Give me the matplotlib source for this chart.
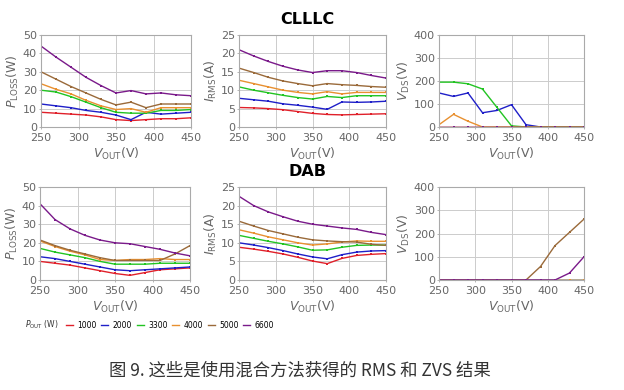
import matplotlib
matplotlib.use("Agg")
import matplotlib.pyplot as plt
from matplotlib.lines import Line2D

plt.rcParams['font.family'] = ['DejaVu Sans']

# data
vout = [250, 270, 290, 310, 330, 350, 370, 390, 410, 430, 450]
pout_labels = ['1000', '2000', '3300', '4000', '5000', '6600']
colors = ['#e0202a', '#1f1fc8', '#22c422', '#e89030', '#9a6a3a', '#7a1a8a']

clllc_ploss = [
    [8, 7.5, 7, 6.5, 5.5, 4, 3.5, 4, 4.5, 4.5, 5],
    [12.5, 11.5, 10.5, 9, 8, 6.5, 4, 8, 7, 7.5, 8],
    [20, 19, 16.5, 13.5, 10.5, 8, 7.5, 7.5, 9, 9, 9.5],
    [23.5, 20.5, 18, 14.5, 11.5, 9.5, 10, 8, 10.5, 10.5, 10.5],
    [30, 26, 22, 18.5, 15, 12, 13.5, 10.5, 12.5, 12.5, 12.5],
    [44, 38, 32.5, 27, 22.5, 18.5, 19.8, 18, 18.5, 17.5, 17],
]
clllc_irms = [
    [5.3, 5.2, 5, 4.7, 4.2, 3.7, 3.4, 3.3, 3.4, 3.5, 3.6],
    [7.8, 7.4, 7, 6.3, 5.9, 5.4, 4.8, 6.8, 6.7, 6.8, 7],
    [10.9, 10, 9.3, 8.6, 8, 7.6, 8.3, 8, 8.5, 8.5, 8.5],
    [12.7, 11.8, 10.9, 10, 9.4, 9, 9.6, 9, 9.4, 9.4, 9.4],
    [16, 14.8, 13.5, 12.5, 11.8, 11.2, 11.8, 11.5, 11.3, 11, 10.8],
    [21, 19.3, 17.8, 16.5, 15.5, 14.8, 15.3, 15.3, 14.8, 14, 13.3],
]
clllc_vds = [
    [0, 0, 0, 0, 0, 0, 0, 0, 0, 0, 0],
    [148, 133, 148, 62, 72, 97, 10, 0, 0, 0, 0],
    [195, 195, 188, 165, 85, 5, 0, 0, 0, 0, 0],
    [10, 55, 25, 0, 0, 0, 0, 0, 0, 0, 0],
    [0, 0, 0, 0, 0, 0, 0, 0, 0, 0, 0],
    [0, 0, 0, 0, 0, 0, 0, 0, 0, 0, 0],
]
dab_ploss = [
    [10, 9, 8, 6.5, 5, 3.5, 2.5, 4, 5.5, 6, 6.5],
    [12.5, 11.5, 10, 8.5, 7, 5.5, 5, 5.5, 6, 6.5, 7],
    [17, 15, 13.5, 12, 10, 8.5, 8.5, 8.5, 9, 9, 9],
    [21, 18, 15.5, 13.5, 11, 10.5, 11, 11, 11.5, 11, 11],
    [21.5, 18.5, 16, 14, 12, 10.5, 10.5, 10.5, 10.5, 14, 18.5],
    [41, 32.5, 27.5, 24, 21.5, 20, 19.5, 18, 16.5, 14.5, 13],
]
dab_irms = [
    [8.8, 8.3, 7.7, 7, 6.1, 5.1, 4.4, 5.8, 6.6, 6.9, 7.1],
    [10, 9.4, 8.7, 7.9, 7, 6.2, 5.7, 6.8, 7.5, 7.8, 7.9],
    [12, 11.2, 10.4, 9.7, 8.9, 8, 8.1, 8.8, 9.3, 9.4, 9.4],
    [13.5, 12.6, 11.6, 10.8, 10, 9.4, 9.7, 10.2, 10.5, 10.4, 10.4],
    [15.8, 14.5, 13.3, 12.4, 11.5, 10.8, 10.5, 10.3, 10.2, 9.6, 9.3],
    [22.5, 20, 18.3, 17, 15.8, 15, 14.5, 14, 13.6, 12.8, 12.2],
]
dab_vds = [
    [0, 0, 0, 0, 0, 0, 0, 0, 0, 0, 0],
    [0, 0, 0, 0, 0, 0, 0, 0, 0, 0, 0],
    [0, 0, 0, 0, 0, 0, 0, 0, 0, 0, 0],
    [0, 0, 0, 0, 0, 0, 0, 0, 0, 0, 0],
    [0, 0, 0, 0, 0, 0, 0, 58, 148, 205, 262],
    [0, 0, 0, 0, 0, 0, 0, 0, 0, 30, 100],
]

GRAY = '#666666'

fig = plt.figure(figsize=(6.24, 3.9), dpi=100)

W, H = 624.0, 390.0
def box(l, t, r, b):
    return [l / W, 1 - b / H, (r - l) / W, (b - t) / H]

panels = [
    (box(41, 35, 191, 127), clllc_ploss, (0, 50), [0, 10, 20, 30, 40, 50], r'$P_{\mathrm{LOSS}}$(W)'),
    (box(239, 35, 386, 127), clllc_irms, (0, 25), [0, 5, 10, 15, 20, 25], r'$I_{\mathrm{RMS}}$(A)'),
    (box(439, 35, 584, 127), clllc_vds, (0, 400), [0, 100, 200, 300, 400], r'$V_{\mathrm{DS}}$(V)'),
    (box(40, 187, 190, 280), dab_ploss, (0, 50), [0, 10, 20, 30, 40, 50], r'$P_{\mathrm{LOSS}}$(W)'),
    (box(239, 187, 386, 280), dab_irms, (0, 25), [0, 5, 10, 15, 20, 25], r'$I_{\mathrm{RMS}}$(A)'),
    (box(439, 187, 584, 280), dab_vds, (0, 400), [0, 100, 200, 300, 400], r'$V_{\mathrm{DS}}$(V)'),
]

for rect, series, ylim, yticks, ylabel in panels:
    ax = fig.add_axes(rect)
    for vals, c in zip(series, colors):
        ax.plot(vout, vals, color=c, lw=1.0, marker='s', ms=1.8, mew=0)
    ax.set_xlim(250, 450)
    ax.set_ylim(*ylim)
    ax.set_xticks([250, 300, 350, 400, 450])
    ax.set_yticks(yticks)
    ax.grid(True, color='#cccccc', lw=0.7)
    ax.set_axisbelow(True)
    for s in ax.spines.values():
        s.set_color('#aaaaaa')
        s.set_linewidth(0.8)
    ax.tick_params(labelsize=8, colors='#aaaaaa', labelcolor=GRAY,
                   length=1.5, width=0.6)
    ax.tick_params(axis='x', pad=3)
    ax.tick_params(axis='y', pad=1.5)
    ax.set_xlabel(r'$V_{\mathrm{OUT}}$(V)', fontsize=9, color=GRAY, labelpad=2)
    ax.set_ylabel(ylabel, fontsize=9, color=GRAY, labelpad=1)

fig.text(307 / W, 1 - 20 / H, 'CLLLC', ha='center', va='center',
         fontsize=11.5, fontweight='bold', color='black')
fig.text(307 / W, 1 - 172 / H, 'DAB', ha='center', va='center',
         fontsize=11.5, fontweight='bold', color='black')

# legend row
fig.text(25 / W, 1 - 325 / H, r'$P_{\mathrm{OUT}}$ (W)', ha='left', va='center',
         fontsize=5.5, color='#333333')
handles = [Line2D([], [], color=c, lw=1.0) for c in colors]
fig.legend(handles, pout_labels, ncol=6, loc='center left',
           bbox_to_anchor=(66 / W, 1 - 325 / H), frameon=False,
           fontsize=5.5, handlelength=0.9, handletextpad=0.6,
           columnspacing=0.6, borderpad=0, borderaxespad=0)

fig.text(300 / W, 1 - 371 / H, '图 9. 这些是使用混合方法获得的 RMS 和 ZVS 结果',
         ha='center', va='center', fontsize=12.5, color='#333333',
         family=['Noto Sans CJK SC', 'DejaVu Sans'])

fig.savefig('out.png', dpi=100)
